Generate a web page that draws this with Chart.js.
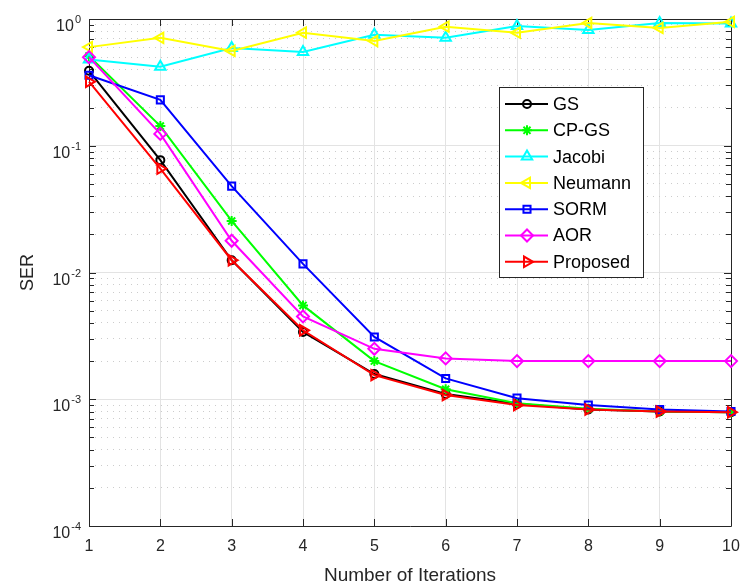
<!DOCTYPE html>
<html lang="en">
<head>
    <meta charset="UTF-8">
    <title>SER vs Number of Iterations</title>
    <script src="https://cdn.jsdelivr.net/npm/chart.js"></script>
    <style>
        body { margin: 0; background: #fff; }
        #wrap { width: 741px; height: 587px; }
    </style>
</head>
<body>
    <div id="wrap">
        <canvas id="serChart" width="741" height="587"></canvas>
    </div>

    <script>
        // Data
        const iterations = [1, 2, 3, 4, 5, 6, 7, 8, 9, 10];
        const serGS       = [0.39, 0.077, 0.0125, 0.0034, 0.00158, 0.0011, 0.00092, 0.00083, 0.0008, 0.00079];
        const serCPGS     = [0.51, 0.143, 0.0255, 0.0055, 0.002, 0.0012, 0.00093, 0.00084, 0.0008, 0.00079];
        const serJacobi   = [0.48, 0.42, 0.59, 0.55, 0.75, 0.71, 0.88, 0.82, 0.93, 0.92];
        const serNeumann  = [0.6, 0.71, 0.56, 0.78, 0.67, 0.87, 0.78, 0.93, 0.85, 0.95];
        const serSORM     = [0.36, 0.23, 0.048, 0.0117, 0.0031, 0.00146, 0.00102, 0.0009, 0.00083, 0.0008];
        const serAOR      = [0.5, 0.124, 0.0178, 0.0045, 0.0025, 0.0021, 0.002, 0.002, 0.002, 0.002];
        const serProposed = [0.32, 0.066, 0.0125, 0.0035, 0.00155, 0.00108, 0.0009, 0.00083, 0.0008, 0.00079];
        const decadeExps  = [0, -1, -2, -3, -4];

        const FONT = '"Liberation Sans", Arial, Helvetica, sans-serif';
        const TEXT = '#262626';

        const series = [
            { label: 'GS',       data: serGS,       color: '#000000', style: 'circle',   rot: 0,   r: 4 },
            { label: 'CP-GS',    data: serCPGS,     color: '#00ff00', style: 'star',     rot: 0,   r: 5 },
            { label: 'Jacobi',   data: serJacobi,   color: '#00ffff', style: 'triangle', rot: 0,   r: 6 },
            { label: 'Neumann',  data: serNeumann,  color: '#ffff00', style: 'triangle', rot: 270, r: 6 },
            { label: 'SORM',     data: serSORM,     color: '#0000ff', style: 'rect',     rot: 0,   r: 5 },
            { label: 'AOR',      data: serAOR,      color: '#ff00ff', style: 'rectRot',  rot: 0,   r: 6 },
            { label: 'Proposed', data: serProposed, color: '#ff0000', style: 'triangle', rot: 90,  r: 6 }
        ];

        function isDecade(v) {
            const l = Math.log10(v);
            return Math.abs(l - Math.round(l)) < 1e-9;
        }

        // frame with inward ticks (MATLAB style box)
        const framePlugin = {
            id: 'frame',
            beforeDatasetsDraw(chart) {
                const { ctx, chartArea: a, scales } = chart;
                ctx.save();
                ctx.strokeStyle = TEXT;
                ctx.lineWidth = 1;
                ctx.beginPath();
                ctx.rect(Math.round(a.left) + 0.5, Math.round(a.top) + 0.5,
                         Math.round(a.right - a.left), Math.round(a.bottom - a.top));
                // x ticks
                scales.x.ticks.forEach(t => {
                    const px = Math.round(scales.x.getPixelForValue(t.value)) + 0.5;
                    ctx.moveTo(px, a.bottom); ctx.lineTo(px, a.bottom - 7);
                    ctx.moveTo(px, a.top); ctx.lineTo(px, a.top + 7);
                });
                // y ticks
                scales.y.ticks.forEach(t => {
                    const py = Math.round(scales.y.getPixelForValue(t.value)) + 0.5;
                    const len = isDecade(t.value) ? 7 : 5;
                    ctx.moveTo(a.left, py); ctx.lineTo(a.left + len, py);
                    ctx.moveTo(a.right, py); ctx.lineTo(a.right - len, py);
                });
                ctx.stroke();

                // y tick labels 10^k
                ctx.fillStyle = TEXT;
                ctx.textBaseline = 'alphabetic';
                ctx.textAlign = 'left';
                decadeExps.forEach(k => {
                    const py = scales.y.getPixelForValue(Math.pow(10, k));
                    ctx.font = '16px ' + FONT;
                    const wBase = ctx.measureText('10').width;
                    ctx.font = '11px ' + FONT;
                    const exp = String(k);
                    const wExp = ctx.measureText(exp).width;
                    const x0 = 81 - (wBase + 1 + wExp);
                    ctx.font = '16px ' + FONT;
                    ctx.fillText('10', x0, py + 12);
                    ctx.font = '11px ' + FONT;
                    ctx.fillText(exp, x0 + wBase + 1, py + 4);
                });
                ctx.restore();
            }
        };

        // legend box with line + marker samples
        const legendPlugin = {
            id: 'boxLegend',
            afterDraw(chart) {
                const ctx = chart.ctx;
                const bx = 499, by = 87, bw = 144, bh = 190;
                ctx.save();
                ctx.fillStyle = '#ffffff';
                ctx.fillRect(bx, by, bw, bh);
                ctx.strokeStyle = TEXT;
                ctx.lineWidth = 1;
                ctx.strokeRect(bx + 0.5, by + 0.5, bw, bh);
                series.forEach((s, i) => {
                    const y = 104 + i * 26.3;
                    ctx.strokeStyle = s.color;
                    ctx.lineWidth = 2;
                    ctx.beginPath();
                    ctx.moveTo(505, y); ctx.lineTo(548, y);
                    ctx.stroke();
                    ctx.fillStyle = 'rgba(0,0,0,0)';
                    Chart.helpers.drawPoint(ctx, {
                        pointStyle: s.style, rotation: s.rot, radius: s.r, borderWidth: 2
                    }, 527, y);
                    ctx.fillStyle = '#000000';
                    ctx.font = '18px ' + FONT;
                    ctx.textBaseline = 'middle';
                    ctx.textAlign = 'left';
                    ctx.fillText(s.label, 553, y + 1);
                });
                ctx.restore();
            }
        };

        const ctx = document.getElementById('serChart').getContext('2d');
        new Chart(ctx, {
            type: 'line',
            data: {
                labels: iterations,
                datasets: series.map((s, i) => ({
                    label: s.label,
                    data: iterations.map((x, j) => ({ x: x, y: s.data[j] })),
                    borderColor: s.color,
                    backgroundColor: s.color,
                    borderWidth: 2,
                    pointStyle: s.style,
                    rotation: s.rot,
                    pointRadius: s.r,
                    pointBorderWidth: 2,
                    pointBackgroundColor: 'rgba(0,0,0,0)',
                    pointBorderColor: s.color,
                    tension: 0,
                    clip: false,
                    order: series.length - i
                }))
            },
            options: {
                responsive: false,
                animation: false,
                events: [],
                layout: { padding: { top: 19, right: 10, left: 0, bottom: 0 } },
                plugins: { legend: { display: false }, tooltip: { enabled: false } },
                scales: {
                    x: {
                        type: 'linear',
                        min: 1,
                        max: 10,
                        afterFit: s => { s.height = 61; s.paddingLeft = 0; s.paddingRight = 0; },
                        ticks: {
                            stepSize: 1,
                            padding: 11,
                            color: TEXT,
                            font: { family: FONT, size: 16 }
                        },
                        grid: { color: '#e3e3e3', lineWidth: 1, drawTicks: false },
                        border: { display: false },
                        title: {
                            display: true,
                            text: 'Number of Iterations',
                            color: TEXT,
                            font: { family: FONT, size: 19 },
                            padding: { top: 0, bottom: 0 }
                        }
                    },
                    y: {
                        type: 'logarithmic',
                        min: 1e-4,
                        max: 1,
                        afterFit: s => { s.width = 89; s.paddingTop = 0; s.paddingBottom = 0; },
                        afterBuildTicks: s => {
                            const t = [];
                            for (let k = -4; k < 0; k++) {
                                for (let m = 1; m <= 9; m++) t.push({ value: m * Math.pow(10, k) });
                            }
                            t.push({ value: 1 });
                            s.ticks = t;
                        },
                        ticks: { display: false },
                        grid: {
                            drawTicks: false,
                            lineWidth: 1,
                            color: c => (c.tick && isDecade(c.tick.value)) ? '#e3e3e3' : '#cccccc'
                        },
                        border: {
                            display: false,
                            dash: c => (c.tick && !isDecade(c.tick.value)) ? [1, 5] : []
                        },
                        title: {
                            display: true,
                            text: 'SER',
                            color: TEXT,
                            font: { family: FONT, size: 18 },
                            padding: { top: 17, bottom: 0 }
                        }
                    }
                }
            },
            plugins: [framePlugin, legendPlugin]
        });
    </script>
</body>
</html>
